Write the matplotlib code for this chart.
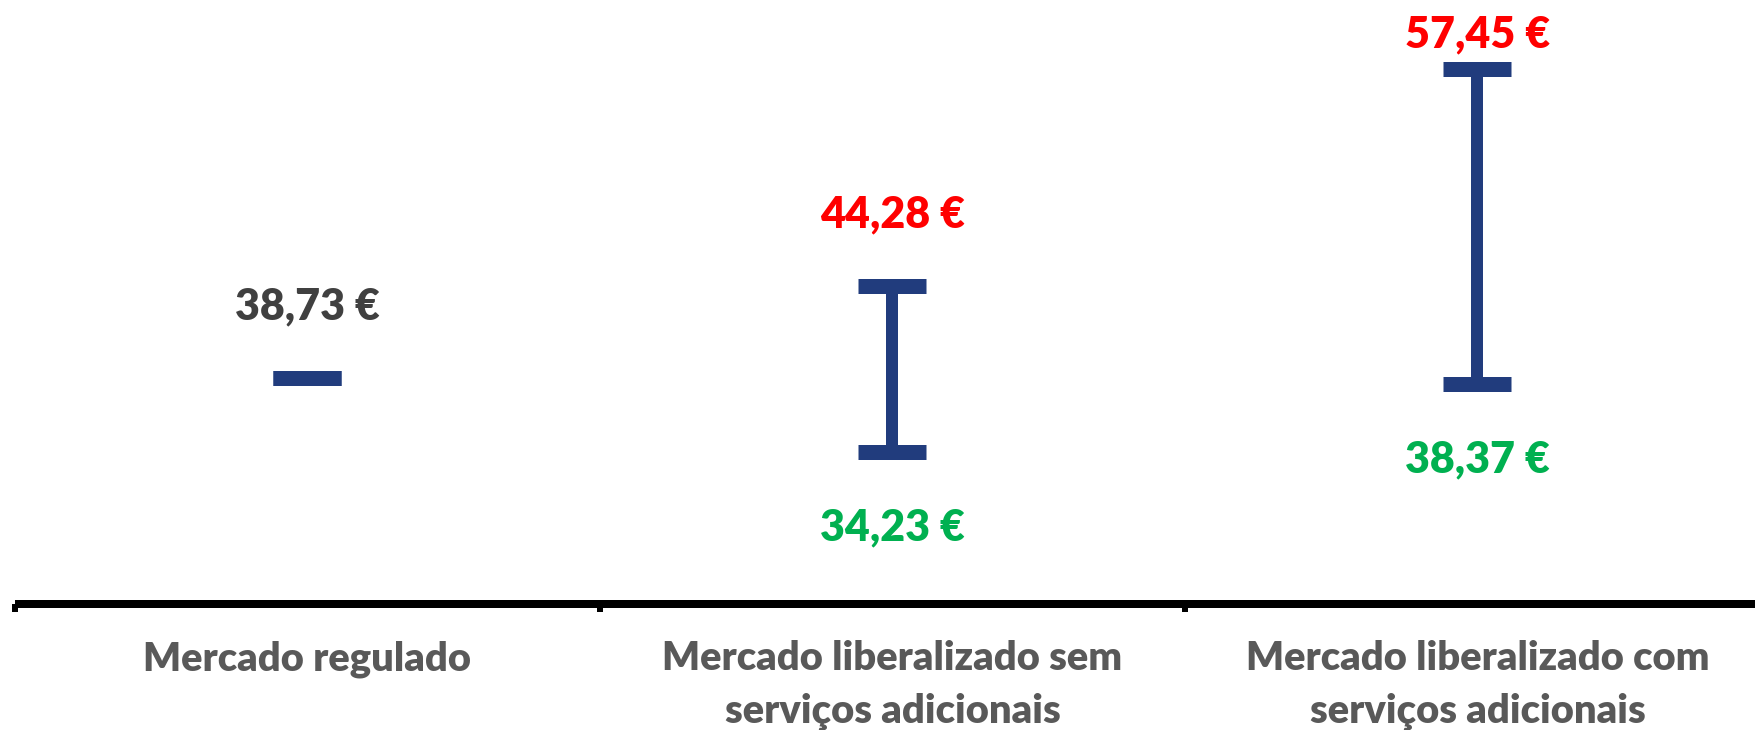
import matplotlib
matplotlib.use("Agg")
import matplotlib.pyplot as plt

# Monthly price ranges per market segment (EUR)
categories = [
    "Mercado regulado",
    "Mercado liberalizado sem\nserviços adicionais",
    "Mercado liberalizado com\nserviços adicionais",
]
low_values = [38.73, 34.23, 38.37]
high_values = [38.73, 44.28, 57.45]

NAVY = "#213C7D"
RED = "#FF0000"
GREEN = "#00B050"
DARK = "#404040"
LABEL_GREY = "#595959"

plt.rcParams["font.family"] = ["Lato", "DejaVu Sans"]
WEIGHT = "heavy"

DPI = 100
W, H = 1756, 730
fig = plt.figure(figsize=(W / DPI, H / DPI), dpi=DPI)

px = 72.0 / DPI  # points per pixel

# axes: 585 px per category, baseline at y=604 px from top
y_min, y_max = 25.0, 60.0
px_per_unit = 16.49
ax_left, ax_bottom = 15, H - 604
ax_w = 3 * 585
ax_h = (y_max - y_min) * px_per_unit
ax = fig.add_axes([ax_left / W, ax_bottom / H, ax_w / W, ax_h / H])
ax.set_xlim(0, 3)
ax.set_ylim(y_min, y_max)
ax.patch.set_alpha(0)

for s in ("top", "right", "left"):
    ax.spines[s].set_visible(False)
ax.spines["bottom"].set_linewidth(8 * px)
ax.spines["bottom"].set_color("black")
ax.spines["bottom"].set_capstyle("butt")
ax.set_yticks([])

xs = [i + 0.5 for i in range(len(categories))]
ax.set_xticks([0, 1, 2, 3])
ax.set_xticklabels([])
ax.tick_params(axis="x", which="major", direction="out", length=8 * px,
               width=6 * px, color="black")

cap_half = 34 / 585
for x, lo, hi in zip(xs, low_values, high_values):
    if hi > lo:
        ax.vlines(x, lo, hi, colors=NAVY, linewidth=12 * px, capstyle="butt")
    ax.hlines([lo, hi], x - cap_half, x + cap_half, colors=NAVY,
              linewidth=15 * px, capstyle="butt")

value_kw = dict(ha="center", va="center", fontsize=31, fontweight=WEIGHT,
                textcoords="offset points")


def euro(v):
    return f"{v:.2f} €".replace(".", ",")


# single-price segment
ax.annotate(euro(low_values[0]), (xs[0], high_values[0]),
            xytext=(0, 71 * px), color=DARK, **value_kw)

# ranged segments: max above, min below
top_offsets = [None, 72, 34]
for i in (1, 2):
    ax.annotate(euro(high_values[i]), (xs[i], high_values[i]),
                xytext=(0, top_offsets[i] * px), color=RED, **value_kw)
    ax.annotate(euro(low_values[i]), (xs[i], low_values[i]),
                xytext=(0, -76 * px), color=GREEN, **value_kw)

# category labels under the axis
for x, name in zip(xs, categories):
    ax.annotate(name, (x, 0), xycoords=("data", "axes fraction"),
                xytext=(0, -36 * px), textcoords="offset points",
                ha="center", va="top", fontsize=28.7, fontweight=WEIGHT,
                color=LABEL_GREY, linespacing=1.52, annotation_clip=False)

fig.savefig("out.png", dpi=DPI)
